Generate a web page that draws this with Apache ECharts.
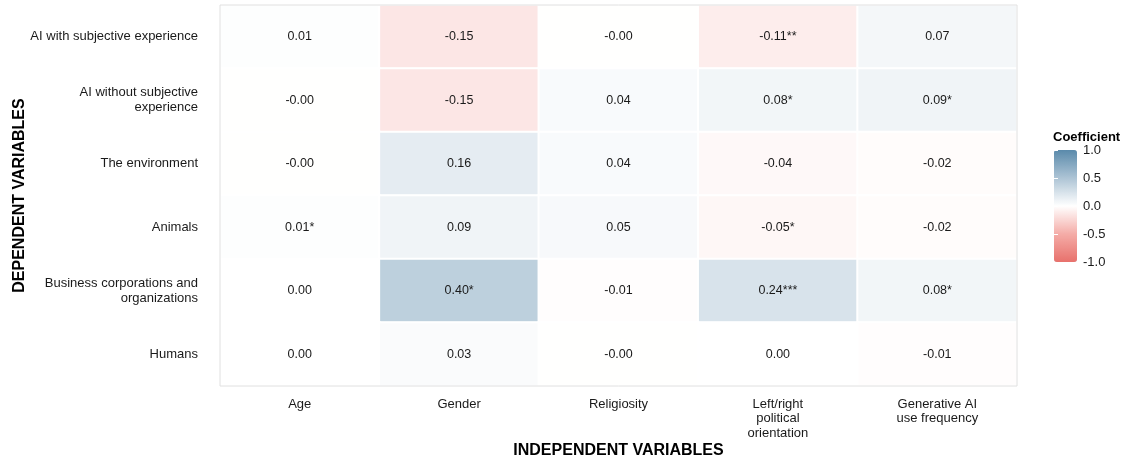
<!DOCTYPE html>
<html>
<head>
<meta charset="utf-8">
<script src="https://cdn.jsdelivr.net/npm/echarts@6/dist/echarts.min.js"></script>
<style>html,body{margin:0;padding:0;background:#fff;}#c{width:1125px;height:458px;}</style>
</head>
<body>
<div id="c"></div>
<script>
const independentVars = ['Age', 'Gender', 'Religiosity', 'Left/right\npolitical\norientation', 'Generative AI\nuse frequency'];
const dependentVars = ['AI with subjective experience', 'AI without subjective\nexperience', 'The environment', 'Animals', 'Business corporations and\norganizations', 'Humans'];
// coefficients: rows = dependent variables, columns = independent variables
const coefAISubj     = [0.01, -0.15, -0.003, -0.11, 0.07];
const coefAINoSubj   = [-0.003, -0.15, 0.04, 0.08, 0.09];
const coefEnv        = [-0.003, 0.16, 0.04, -0.04, -0.02];
const coefAnimals    = [0.01, 0.09, 0.05, -0.05, -0.02];
const coefBusiness   = [0.002, 0.40, -0.01, 0.24, 0.08];
const coefHumans     = [0.002, 0.03, -0.003, 0.002, -0.01];
const starsAISubj    = ['', '', '', '**', ''];
const starsAINoSubj  = ['', '', '', '*', '*'];
const starsEnv       = ['', '', '', '', ''];
const starsAnimals   = ['*', '', '', '*', ''];
const starsBusiness  = ['', '*', '', '***', '*'];
const starsHumans    = ['', '', '', '', ''];
const legendTicks = [-1, -0.5, 0, 0.5, 1];

const coefRows = [coefAISubj, coefAINoSubj, coefEnv, coefAnimals, coefBusiness, coefHumans];
const starRows = [starsAISubj, starsAINoSubj, starsEnv, starsAnimals, starsBusiness, starsHumans];
const data = [];
coefRows.forEach((row, r) => row.forEach((v, c) => data.push({value: [c, r, v], stars: starRows[r][c]})));

const FONT = '"Liberation Sans", Arial, Helvetica, sans-serif';
const chart = echarts.init(document.getElementById('c'));
chart.setOption({
  animation: false,
  backgroundColor: '#fff',
  textStyle: {fontFamily: FONT},
  title: {
    text: 'Coefficient', left: 1053, top: 131, padding: 0,
    textStyle: {fontFamily: FONT, fontSize: 13, fontWeight: 'bold', color: '#000'}
  },
  grid: [
    {left: 220, right: 108, top: 5, bottom: 72, show: true, borderColor: '#e0e0e0', borderWidth: 1,
     backgroundColor: 'transparent', z: 5, outerBoundsMode: 'none', containLabel: false},
    {left: 1054, top: 150, width: 23, height: 112, show: false, outerBoundsMode: 'none', containLabel: false}
  ],
  xAxis: [
    {
      type: 'category', data: independentVars, gridIndex: 0,
      axisLine: {show: false}, axisTick: {show: false}, splitLine: {show: false},
      axisLabel: {fontFamily: FONT, fontSize: 13, color: '#1a1a1a', margin: 11, lineHeight: 14.5, interval: 0},
      name: 'INDEPENDENT VARIABLES', nameLocation: 'middle', nameGap: 57, nameMoveOverlap: false,
      nameTextStyle: {fontFamily: FONT, fontSize: 16, fontWeight: 'bold', color: '#000'}
    },
    {type: 'value', gridIndex: 1, show: false, min: 0, max: 1}
  ],
  yAxis: [
    {
      type: 'category', data: dependentVars, gridIndex: 0, inverse: true,
      axisLine: {show: false}, axisTick: {show: false}, splitLine: {show: false},
      axisLabel: {fontFamily: FONT, fontSize: 13, color: '#1a1a1a', margin: 22, lineHeight: 15, align: 'right', interval: 0},
      name: 'DEPENDENT VARIABLES', nameLocation: 'middle', nameGap: 192, nameRotate: 90, nameMoveOverlap: false,
      nameTextStyle: {fontFamily: FONT, fontSize: 16, fontWeight: 'bold', color: '#000'}
    },
    {
      type: 'value', gridIndex: 1, position: 'right', min: legendTicks[0], max: legendTicks[legendTicks.length - 1], interval: 0.5,
      z: 10, axisLine: {show: false}, splitLine: {show: false},
      axisTick: {show: true, inside: true, length: 4, lineStyle: {color: '#fff', width: 1}},
      axisLabel: {fontFamily: FONT, fontSize: 13, color: '#1a1a1a', margin: 6, formatter: v => v.toFixed(1)}
    },
    {
      type: 'value', gridIndex: 1, position: 'left', min: legendTicks[0], max: legendTicks[legendTicks.length - 1], interval: 0.5,
      z: 10, axisLine: {show: false}, splitLine: {show: false},
      axisTick: {show: true, inside: true, length: 4, lineStyle: {color: '#fff', width: 1}},
      axisLabel: {show: false}
    }
  ],
  visualMap: {
    type: 'continuous', min: -1, max: 1, calculable: false, show: true,
    left: 1054, top: 150, itemWidth: 23, itemHeight: 112, padding: 0,
    text: null, showLabel: false, seriesIndex: 0,
    inRange: {color: ['#E8716C', '#F4ACA7', '#FFFFFF', '#ADC4D5', '#5A8AAB']}
  },
  series: [
    {
      type: 'heatmap', xAxisIndex: 0, yAxisIndex: 0, data: data,
      itemStyle: {borderColor: '#fff', borderWidth: 2},
      emphasis: {disabled: true},
      label: {
        show: true, fontFamily: FONT, fontSize: 12.5, color: '#1a1a1a',
        formatter: p => p.value[2].toFixed(2) + (p.data.stars || '')
      }
    },
    {type: 'scatter', xAxisIndex: 1, yAxisIndex: 1, data: [], silent: true}
  ]
});
</script>
</body>
</html>
